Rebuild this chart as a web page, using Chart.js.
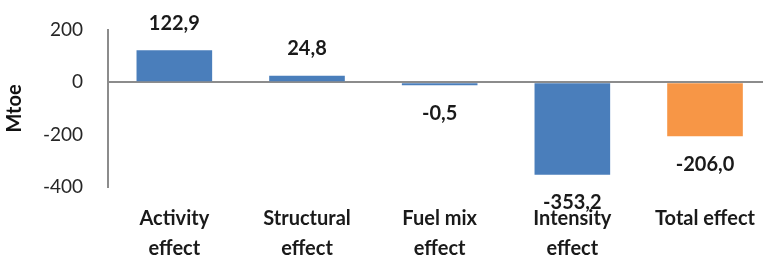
<!DOCTYPE html>
<html>
<head>
<meta charset="utf-8">
<script src="https://cdn.jsdelivr.net/npm/chart.js@4.4.1/dist/chart.umd.min.js"></script>
<style>
  html, body { margin: 0; padding: 0; background: #fff; overflow: hidden; }
  #wrap { width: 772px; height: 257px; position: relative; }
</style>
</head>
<body>
<div id="wrap"><canvas id="chart"></canvas></div>
<script>
// datos (Mtoe)
var categorias = [['Activity', 'effect'], ['Structural', 'effect'], ['Fuel mix', 'effect'], ['Intensity', 'effect'], ['Total effect']];
var valores = [122.9, 24.8, -0.5, -353.2, -206.0];
var colores = ['#4a7ebb', '#4a7ebb', '#4a7ebb', '#4a7ebb', '#f79646'];
var yTicks = [-400, -200, 0, 200];

function fmt(v) { return v.toFixed(1).replace('.', ','); }

// etiquetas de valor sobre / bajo cada barra
var etiquetas = {
    id: 'etiquetas',
    afterDatasetsDraw: function (chart) {
        var ctx = chart.ctx;
        var meta = chart.getDatasetMeta(0);
        ctx.save();
        ctx.font = 'bold 20px Lato';
        ctx.fillStyle = '#1a1a1a';
        ctx.textAlign = 'center';
        ctx.textBaseline = 'middle';
        meta.data.forEach(function (el, i) {
            var v = valores[i];
            var y = v >= 0 ? el.y - 27 : el.y + 28;
            ctx.fillText(fmt(v), el.x, y);
        });
        ctx.restore();
    }
};

new Chart(document.getElementById('chart'), {
    type: 'bar',
    data: {
        labels: categorias,
        datasets: [{
            data: valores,
            backgroundColor: colores,
            borderWidth: 0,
            barPercentage: 0.57,
            categoryPercentage: 1,
            minBarLength: 3
        }]
    },
    options: {
        responsive: true,
        maintainAspectRatio: false,
        animation: false,
        layout: { padding: { top: 30, left: 0, right: 0, bottom: 0 } },
        plugins: { legend: { display: false }, tooltip: { enabled: false } },
        scales: {
            x: {
                grid: { display: false, drawTicks: false },
                border: { display: false },
                ticks: {
                    color: '#1a1a1a',
                    font: { family: 'Lato', size: 20, weight: 'bold', lineHeight: 1.5 },
                    padding: 17,
                    maxRotation: 0,
                    autoSkip: false
                },
                afterFit: function (s) { s.height = 70; }
            },
            y: {
                min: -400,
                max: 200,
                afterBuildTicks: function (s) { s.ticks = yTicks.map(function (v) { return { value: v }; }); },
                grid: {
                    drawTicks: true,
                    tickLength: 18,
                    tickColor: 'rgba(0,0,0,0)',
                    color: function (c) { return c.tick && c.tick.value === 0 ? '#8c8c8c' : 'rgba(0,0,0,0)'; },
                    lineWidth: 2
                },
                border: { display: true, color: '#8c8c8c', width: 2 },
                ticks: {
                    color: '#262626',
                    font: { family: 'Lato', size: 19 },
                    padding: 7
                },
                title: {
                    display: true,
                    text: 'Mtoe',
                    color: '#111',
                    font: { family: 'Lato', size: 20, weight: 'bold' },
                    padding: { top: 3, bottom: 0 }
                },
                afterFit: function (s) { s.width = 108; }
            }
        }
    },
    plugins: [etiquetas]
});
</script>
</body>
</html>
